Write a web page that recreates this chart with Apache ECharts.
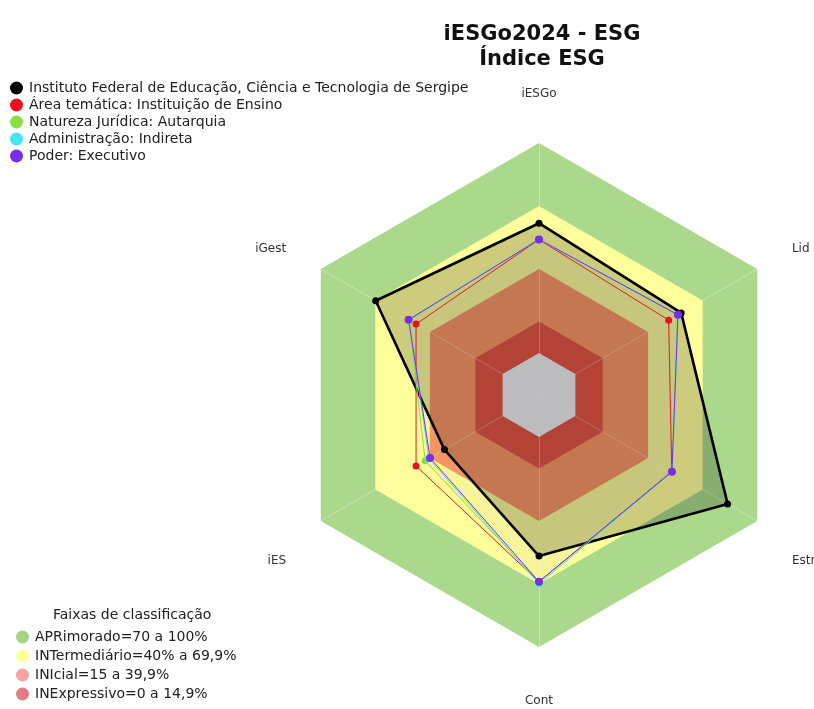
<!DOCTYPE html>
<html>
<head>
<meta charset="utf-8">
<script src="https://cdn.jsdelivr.net/npm/echarts@6/dist/echarts.min.js"></script>
<style>
html,body{margin:0;padding:0;background:#fff;}
#chart{width:814px;height:709px;}
</style>
</head>
<body>
<div id="chart"></div>
<script>
// Indicators listed counter-clockwise from the top (ECharts radar order)
const indicatorNames = ['iESGo', 'iGest', 'iES', 'Cont', 'Estr', 'Lid'];
const axisMin = -20;
const axisMax = 100;

// Classification bands (upper limit of each band)
const bandNames = ['APRimorado=70 a 100%', 'INTermediário=40% a 69,9%', 'INIcial=15 a 39,9%', 'INExpressivo=0 a 14,9%', 'base'];
const bandLimits = [100, 70, 40, 15, 0];
const bandLegendColors = ['#a3d483', '#ffff99', '#f5a3a3', '#e07c86', '#eeeeee'];
const bandFillColors = ['#aad98c', '#ffff9c', '#fc985f', '#e5523a', '#f2f2f2'];

// Series (values per indicator in the order of indicatorNames)
const seriesNames = [
  'Instituto Federal de Educação, Ciência e Tecnologia de Sergipe',
  'Área temática: Instituição de Ensino',
  'Natureza Jurídica: Autarquia',
  'Administração: Indireta',
  'Poder: Executivo'
];
const ifsValues = [61.8, 69.8, 32.0, 56.7, 83.7, 58.2];
const areaValues = [54.0, 47.6, 47.6, 68.9, 53.0, 51.3];
const naturezaValues = [54.0, 51.5, 42.6, 69.0, 53.2, 56.2];
const adminValues = [54.1, 51.7, 40.5, 70.0, 53.3, 56.5];
const poderValues = [54.1, 51.7, 39.9, 68.9, 53.1, 56.4];
const seriesValues = [ifsValues, areaValues, naturezaValues, adminValues, poderValues];
const seriesColors = ['#000000', '#e8141c', '#86e044', '#44e6f0', '#7a2ce6'];

const chart = echarts.init(document.getElementById('chart'), null, {renderer: 'canvas'});

const FONT = 'DejaVu Sans';

const bandSeries = bandNames.map((name, i) => ({
  type: 'radar',
  name: name,
  z: 1,
  silent: true,
  symbol: 'none',
  itemStyle: {color: bandLegendColors[i]},
  lineStyle: {width: 0, opacity: 0},
  areaStyle: {color: bandFillColors[i], opacity: 1},
  data: [{value: indicatorNames.map(() => bandLimits[i]), name: name}]
}));

const symbolSizes = [7, 7, 7, 7, 8];
const lineWidths = [2.6, 1, 1, 1, 1];
const areaOpacities = [0.2, 0.02, 0.02, 0.02, 0.02];

const dataSeries = seriesNames.map((name, i) => ({
  type: 'radar',
  name: name,
  z: 4,
  symbol: 'circle',
  symbolSize: symbolSizes[i],
  itemStyle: {color: seriesColors[i]},
  lineStyle: {color: seriesColors[i], width: lineWidths[i]},
  areaStyle: {color: seriesColors[i], opacity: areaOpacities[i]},
  data: [{value: seriesValues[i], name: name}]
}));

// per-axis label nudges (style only)
const nameStyleKey = {iESGo: 'top', iGest: 'side', iES: 'low', Cont: 'bottom', Estr: 'low', Lid: 'side'};
const baseName = {fontFamily: FONT, fontSize: 12, color: '#333'};

const option = {
  backgroundColor: '#ffffff',
  animation: false,
  title: [{
    text: 'iESGo2024 - ESG\nÍndice ESG',
    left: 537,
    top: 17,
    textAlign: 'center',
    textStyle: {fontFamily: FONT, fontSize: 21, fontWeight: 'bold', color: '#111', lineHeight: 25}
  }, {
    text: 'Faixas de classificação',
    left: 48,
    top: 603,
    textStyle: {fontFamily: FONT, fontSize: 14, fontWeight: 'normal', color: '#222'}
  }],
  legend: [{
    data: seriesNames,
    orient: 'vertical',
    left: 5,
    top: 76,
    itemGap: 3,
    itemWidth: 13,
    itemHeight: 13,
    icon: 'circle',
    selectedMode: false,
    textStyle: {fontFamily: FONT, fontSize: 14, color: '#222', padding: [0, 0, 0, 1]}
  }, {
    data: bandNames.slice(0, 4),
    orient: 'vertical',
    left: 11,
    top: 625,
    itemGap: 5,
    itemWidth: 13,
    itemHeight: 13,
    icon: 'circle',
    selectedMode: false,
    textStyle: {fontFamily: FONT, fontSize: 14, color: '#222', padding: [0, 0, 0, 1]}
  }],
  radar: {
    center: [539, 395],
    radius: 252,
    startAngle: 90,
    shape: 'polygon',
    z: 3,
    indicator: indicatorNames.map(n => ({name: n, min: axisMin, max: axisMax})),
    axisName: {
      color: '#333', fontFamily: FONT, fontSize: 12,
      formatter: function (value) {
        return '{' + (nameStyleKey[value] || 'side') + '|' + value + '}';
      },
      rich: {
        top: Object.assign({padding: [0, 0, 3, 0]}, baseName),
        side: Object.assign({padding: [0, 0, 0, 0]}, baseName),
        low: Object.assign({padding: [40, 0, 0, 0]}, baseName),
        bottom: Object.assign({padding: [8, 0, 0, 0]}, baseName)
      }
    },
    nameGap: 40,
    splitNumber: 6,
    splitLine: {show: false},
    splitArea: {show: false},
    axisLine: {show: true, lineStyle: {color: 'rgba(255,255,255,0.35)', width: 1}},
    axisTick: {show: false},
    axisLabel: {show: false}
  },
  series: bandSeries.concat(dataSeries)
};

chart.setOption(option);
</script>
</body>
</html>
